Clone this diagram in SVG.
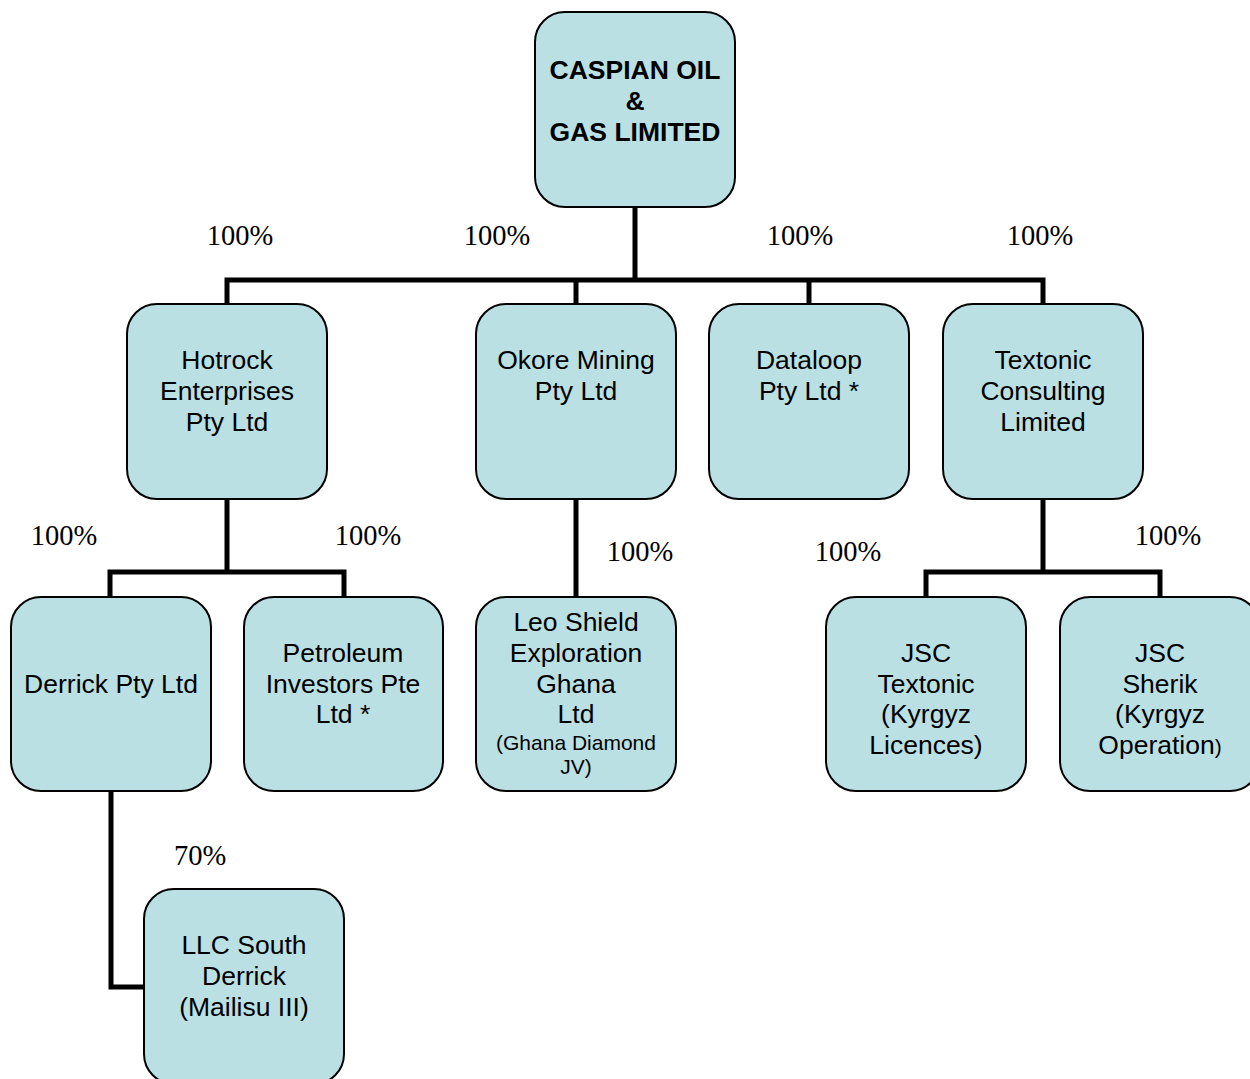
<svg xmlns="http://www.w3.org/2000/svg" width="1250" height="1079" viewBox="0 0 1250 1079">
<style>
.box{fill:#BBE0E3;stroke:#000;stroke-width:2}
.t{font-family:"Liberation Sans",Arial,sans-serif;font-size:26.5px;text-anchor:middle;fill:#000}
.b{font-weight:bold}
.s{font-size:21px}
.p{font-family:"Liberation Serif","Times New Roman",serif;font-size:28.5px;text-anchor:middle;fill:#000}
.c{fill:none;stroke:#000;stroke-width:5}
</style>
<rect width="1250" height="1079" fill="#fff"/>
<g id="connectors">
<path class="c" d="M635 207V280M227 304V280H1043V304M576 280V304M809 280V304"/>
<path class="c" d="M227 499V572M110 597V572H344V597"/>
<path class="c" d="M576 499V597"/>
<path class="c" d="M1043 499V572M926 597V572H1160V597"/>
<path class="c" d="M111 791V987H144"/>
</g>
<g id="labels">
<text class="p" x="240" y="245">100%</text>
<text class="p" x="497" y="245">100%</text>
<text class="p" x="800" y="245">100%</text>
<text class="p" x="1040" y="245">100%</text>
<text class="p" x="64" y="545">100%</text>
<text class="p" x="368" y="545">100%</text>
<text class="p" x="640" y="561">100%</text>
<text class="p" x="848" y="561">100%</text>
<text class="p" x="1168" y="545">100%</text>
<text class="p" x="200" y="865">70%</text>
</g>
<g id="caspian"><rect class="box" x="535" y="12" width="200" height="195" rx="30"/>
<text class="t b" x="635" y="79">CASPIAN OIL</text><text class="t b" x="635" y="110">&amp;</text><text class="t b" x="635" y="141">GAS LIMITED</text></g>
<g id="hotrock"><rect class="box" x="127" y="304" width="200" height="195" rx="30"/>
<text class="t" x="227" y="369">Hotrock</text><text class="t" x="227" y="400">Enterprises</text><text class="t" x="227" y="431">Pty Ltd</text></g>
<g id="okore"><rect class="box" x="476" y="304" width="200" height="195" rx="30"/>
<text class="t" x="576" y="369">Okore Mining</text><text class="t" x="576" y="400">Pty Ltd</text></g>
<g id="dataloop"><rect class="box" x="709" y="304" width="200" height="195" rx="30"/>
<text class="t" x="809" y="369">Dataloop</text><text class="t" x="809" y="400">Pty Ltd *</text></g>
<g id="textonic"><rect class="box" x="943" y="304" width="200" height="195" rx="30"/>
<text class="t" x="1043" y="369">Textonic</text><text class="t" x="1043" y="400">Consulting</text><text class="t" x="1043" y="431">Limited</text></g>
<g id="derrick"><rect class="box" x="11" y="597" width="200" height="194" rx="30"/>
<text class="t" x="111" y="693">Derrick Pty Ltd</text></g>
<g id="petroleum"><rect class="box" x="244" y="597" width="199" height="194" rx="30"/>
<text class="t" x="343" y="662">Petroleum</text><text class="t" x="343" y="693">Investors Pte</text><text class="t" x="343" y="723">Ltd *</text></g>
<g id="leoshield"><rect class="box" x="476" y="597" width="200" height="194" rx="30"/>
<text class="t" x="576" y="631">Leo Shield</text><text class="t" x="576" y="662">Exploration</text><text class="t" x="576" y="693">Ghana</text><text class="t" x="576" y="723">Ltd</text>
<text class="t s" x="576" y="750">(Ghana Diamond</text><text class="t s" x="576" y="774">JV)</text></g>
<g id="jsctextonic"><rect class="box" x="826" y="597" width="200" height="194" rx="30"/>
<text class="t" x="926" y="662">JSC</text><text class="t" x="926" y="693">Textonic</text><text class="t" x="926" y="723">(Kyrgyz</text><text class="t" x="926" y="754">Licences)</text></g>
<g id="jscsherik"><rect class="box" x="1060" y="597" width="200" height="194" rx="30"/>
<text class="t" x="1160" y="662">JSC</text><text class="t" x="1160" y="693">Sherik</text><text class="t" x="1160" y="723">(Kyrgyz</text><text class="t" x="1160" y="754">Operation<tspan style="font-size:21px">)</tspan></text></g>
<g id="llcsouth"><rect class="box" x="144" y="889" width="200" height="195" rx="30"/>
<text class="t" x="244" y="954">LLC South</text><text class="t" x="244" y="985">Derrick</text><text class="t" x="244" y="1016">(Mailisu III)</text></g>
</svg>
